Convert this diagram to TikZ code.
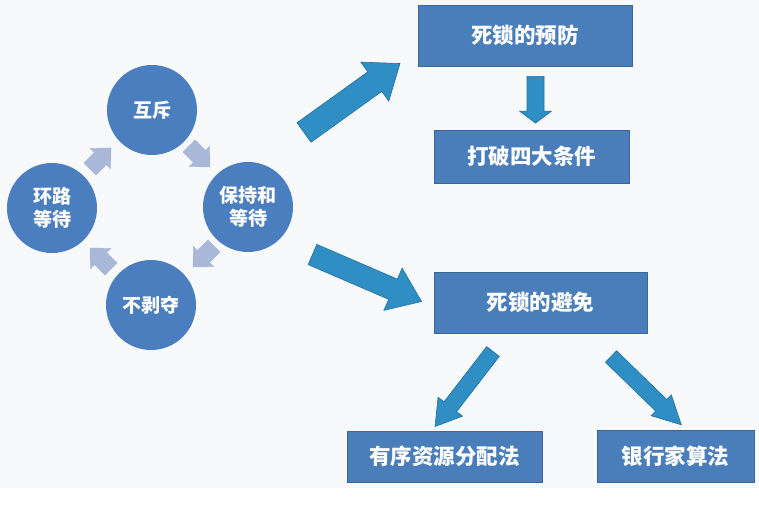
\documentclass[tikz,border=0pt]{standalone}
\usepackage{fontspec}
\setmainfont{Noto Sans CJK SC}
\usetikzlibrary{calc}

\definecolor{circblue}{HTML}{4A7EBF}
\definecolor{boxblue}{HTML}{4A7EBB}
\definecolor{boxline}{HTML}{3A669C}
\definecolor{arrowblue}{HTML}{2F8FC4}
\definecolor{arrowline}{HTML}{22709C}
\definecolor{cyclegrey}{HTML}{A9B8D8}
\definecolor{bggrey}{HTML}{F8F9FA}

\tikzset{
    circ/.style={circle, fill=circblue, minimum size=90pt, inner sep=0pt,
        text=white, align=center, font=\fontsize{19}{23}\selectfont\bfseries},
    box/.style={rectangle, fill=boxblue, draw=boxline, line width=0.8pt,
        inner sep=0pt, text=white, font=\fontsize{21.5}{25}\selectfont\bfseries},
    bigarrow/.style={fill=arrowblue, draw=arrowline, line width=0.6pt},
    cyclearrow/.style={fill=cyclegrey, draw=cyclegrey, line width=0.4pt}
}

% style, from, to, half shaft, half head, head length
\newcommand{\blockarrow}[6]{%
    \path let \p1=($(#3)-(#2)$), \n1={atan2(\y1,\x1)}, \n2={veclen(\x1,\y1)} in
        \pgfextra{\xdef\arrang{\n1}\xdef\arrlen{\n2}};
    \draw[#1, shift={(#2)}, rotate=\arrang, x=1pt, y=1pt]
        (0,-#4) -- (\arrlen-#6,-#4) -- (\arrlen-#6,-#5) -- (\arrlen,0)
        -- (\arrlen-#6,#5) -- (\arrlen-#6,#4) -- (0,#4) -- cycle;
}

\begin{document}
\begin{tikzpicture}[x=1pt, y=-1pt]
    \useasboundingbox (0,0) rectangle (759,512);
    \fill[bggrey] (0,0) rectangle (759,488);

    \node[circ] (mutex) at (152,110) {互斥};
    \node[circ] (hold) at (248,207) {保持和\\等待};
    \node[circ] (nopre) at (151,305) {不剥夺};
    \node[circ] (loop) at (52,208) {环路\\等待};

    \node[box, minimum width=214pt, minimum height=61pt] (prevent) at (525,35.5) {死锁的预防};
    \node[box, minimum width=195pt, minimum height=53pt] (break) at (531.5,156.5) {打破四大条件};
    \node[box, minimum width=213pt, minimum height=61pt] (avoid) at (540.5,302.5) {死锁的避免};
    \node[box, minimum width=195pt, minimum height=51pt] (order) at (444.5,456.5) {有序资源分配法};
    \node[box, minimum width=157pt, minimum height=52pt] (banker) at (675.5,456) {银行家算法};

    \coordinate (nes) at (189,146); \coordinate (net) at (210,167);
    \coordinate (ses) at (214,246); \coordinate (set) at (193,267);
    \coordinate (sws) at (111,269); \coordinate (swt) at (90,248);
    \coordinate (nws) at (90,169);  \coordinate (nwt) at (111,148);
    \foreach \s/\t in {nes/net,ses/set,sws/swt,nws/nwt}
        \blockarrow{cyclearrow}{\s}{\t}{8.5}{14.5}{15};

    \coordinate (toprev) at (304,132.5);  \coordinate (atprev) at (400,63.5);
    \coordinate (toavoid) at (312.5,254.5); \coordinate (atavoid) at (421.5,301.5);
    \coordinate (fromprev) at ($(prevent.south)+(10.5,10)$);
    \coordinate (atbreak) at ($(break.north)+(4,-6.5)$);
    \coordinate (fromavl) at (493,351.5); \coordinate (atorder) at (435,426.5);
    \coordinate (fromavr) at (611,356.5); \coordinate (atbanker) at (681.5,425);

    \blockarrow{bigarrow}{toprev}{atprev}{12}{24}{31}
    \blockarrow{bigarrow}{toavoid}{atavoid}{11}{23}{31}
    \blockarrow{bigarrow}{fromprev}{atbreak}{8.5}{16}{12}
    \blockarrow{bigarrow}{fromavl}{atorder}{8}{15.5}{25}
    \blockarrow{bigarrow}{fromavr}{atbanker}{8}{14.5}{28}
\end{tikzpicture}
\end{document}
